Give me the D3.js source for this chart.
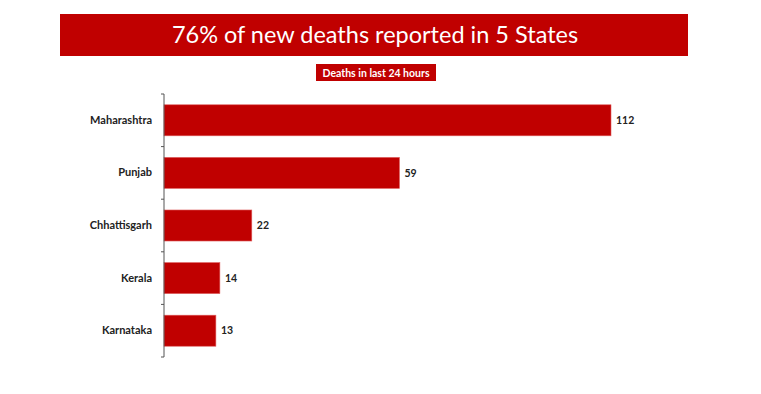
<!DOCTYPE html>
<html>
<head>
<meta charset="utf-8">
<script src="https://cdn.jsdelivr.net/npm/d3@7"></script>
<style>
  body { margin: 0; background: #fff; }
  svg { display: block; font-family: Lato, "Open Sans", sans-serif; }
</style>
</head>
<body>
<svg id="chart" width="761" height="394"></svg>
<script>
// Data
const states = ["Maharashtra", "Punjab", "Chhattisgarh", "Kerala", "Karnataka"];
const deaths = [112, 59, 22, 14, 13];
const title = "76% of new deaths reported in 5 States";
const subtitle = "Deaths in last 24 hours";

const RED = "#c00000";
const svg = d3.select("#chart");

// title banner
svg.append("rect")
    .attr("x", 60).attr("y", 14)
    .attr("width", 628).attr("height", 42)
    .attr("fill", RED);
svg.append("text")
    .attr("x", 375).attr("y", 43)
    .attr("text-anchor", "middle")
    .attr("fill", "#fff")
    .style("font-size", "23.5px")
    .text(title);

// subtitle box
svg.append("rect")
    .attr("x", 316).attr("y", 64)
    .attr("width", 120).attr("height", 17)
    .attr("fill", RED);
svg.append("text")
    .attr("x", 376).attr("y", 76.5)
    .attr("text-anchor", "middle")
    .attr("fill", "#fff")
    .style("font-size", "10.5px")
    .style("font-weight", "bold")
    .text(subtitle);

const x = d3.scaleLinear().domain([0, 112]).range([164, 611]);
const y = d3.scaleBand().domain(states).range([94, 357])
    .paddingInner(0.41).paddingOuter(0.205);

// bars
svg.selectAll("rect.bar")
    .data(states)
    .join("rect")
    .attr("class", "bar")
    .attr("x", x(0))
    .attr("y", d => y(d))
    .attr("width", (d, i) => x(deaths[i]) - x(0))
    .attr("height", y.bandwidth())
    .attr("fill", RED)
    .attr("stroke", "#e06060")
    .attr("stroke-width", 0.6);

// value labels
svg.selectAll("text.val")
    .data(states)
    .join("text")
    .attr("class", "val")
    .attr("x", (d, i) => x(deaths[i]) + 5)
    .attr("y", d => y(d) + y.bandwidth() / 2)
    .attr("dy", "0.35em")
    .style("font-size", "10.5px")
    .style("font-weight", "bold")
    .attr("fill", "#222")
    .text((d, i) => deaths[i]);

// category axis (labels)
const axis = svg.append("g")
    .attr("transform", `translate(${x(0)},0)`)
    .call(d3.axisLeft(y).tickSize(0).tickPadding(12));
axis.select(".domain").remove();
axis.selectAll("text")
    .style("font-size", "11px")
    .style("font-weight", "bold")
    .style("font-family", "Lato, 'Open Sans', sans-serif")
    .attr("fill", "#222");

// axis line and boundary ticks
const step = y.step();
const bounds = states.map(s => y(s) - step * y.paddingInner() / 2)
    .concat([y.range()[1]]);
svg.append("line")
    .attr("x1", x(0)).attr("x2", x(0))
    .attr("y1", y.range()[0]).attr("y2", y.range()[1])
    .attr("stroke", "#555").attr("stroke-width", 1);
svg.selectAll("line.tick")
    .data(bounds)
    .join("line")
    .attr("class", "tick")
    .attr("x1", x(0) - 3).attr("x2", x(0))
    .attr("y1", d => d).attr("y2", d => d)
    .attr("stroke", "#555").attr("stroke-width", 1);
</script>
</body>
</html>
